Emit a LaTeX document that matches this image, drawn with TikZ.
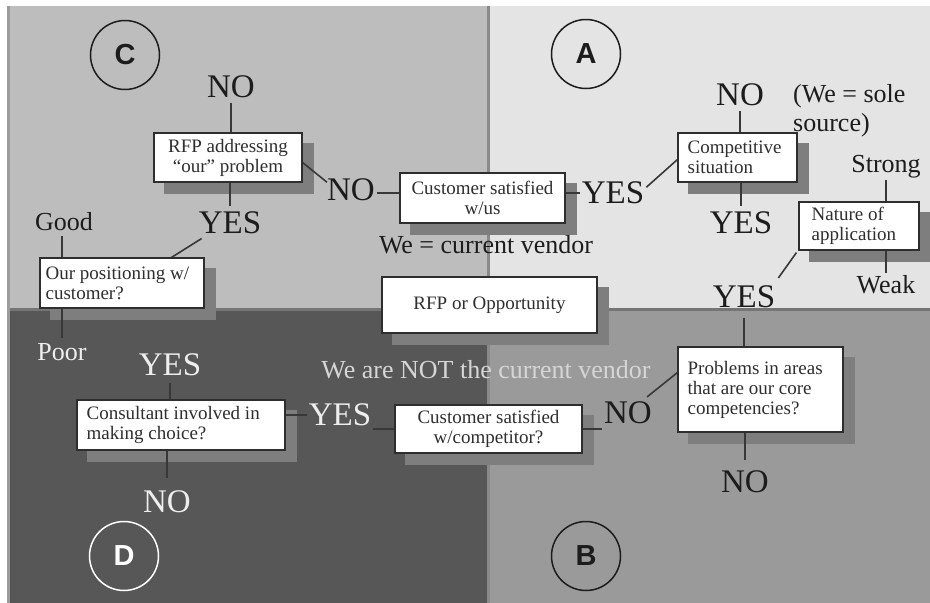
\documentclass[tikz,border=0pt]{standalone}
\usepackage{fontspec}
\setmainfont{Liberation Serif}
\newfontfamily\circfont{Liberation Sans}
\usetikzlibrary{calc}

\pgfdeclarelayer{bg}
\pgfdeclarelayer{shad}
\pgfdeclarelayer{conn}
\pgfsetlayers{bg,shad,conn,main}

\definecolor{qC}{HTML}{BDBDBD}
\definecolor{qA}{HTML}{E4E4E4}
\definecolor{qD}{HTML}{575757}
\definecolor{qB}{HTML}{9A9A9A}
\definecolor{shadowc}{HTML}{7E7E7E}
\definecolor{inkc}{HTML}{1C1C1C}
\definecolor{boxink}{HTML}{2E2E2E}
\definecolor{lightink}{HTML}{EEEEEE}
\definecolor{wire}{HTML}{383838}
\definecolor{divider}{HTML}{8A8A8A}
\definecolor{edgeband}{HTML}{9C9C9C}

\begin{document}
\begin{tikzpicture}[x=1pt,y=-1pt,
  qbox/.style={draw=boxink, line width=1.1pt, fill=white, inner sep=0pt,
    font=\fontsize{19}{20}\selectfont, text=boxink, align=center},
  qtext/.style={inner sep=0pt, font=\fontsize{19}{20}\selectfont, text=boxink,
    align=left, anchor=west},
  answer/.style={font=\fontsize{33}{33}\selectfont, text=inkc, inner sep=2pt, anchor=base},
  answerlt/.style={answer, text=lightink},
  note/.style={font=\fontsize{26}{29}\selectfont, text=inkc, inner sep=2pt, anchor=base},
  wiring/.style={draw=wire, line width=1.6pt},
  zone/.style={circle, draw=inkc, line width=1.5pt, minimum size=69pt, inner sep=0pt,
    text=inkc, font=\circfont\bfseries\fontsize{29}{29}\selectfont},
]
\useasboundingbox (0,0) rectangle (930,603);

% ---- quadrants -------------------------------------------------------
\begin{pgfonlayer}{bg}
  \fill[white] (0,0) rectangle (930,603);
  \fill[qC] (10,6) rectangle (488,308);
  \fill[qA] (488,6) rectangle (930,308);
  \fill[qD] (10,308) rectangle (488,603);
  \fill[qB] (488,308) rectangle (930,603);
  \fill[edgeband] (7,6) rectangle (10,603);
  \draw[divider, line width=3pt] (488,6) -- (488,603);
  \draw[divider!85!black, line width=3pt] (10,309) -- (930,309);
\end{pgfonlayer}

% ---- zone markers ----------------------------------------------------
\node[zone] (zC) at (125,55) {C};
\node[zone] (zA) at (586,54) {A};
\node[zone, draw=white, text=white] (zD) at (124,556) {D};
\node[zone] (zB) at (586,556) {B};

% ---- question boxes --------------------------------------------------
\node[qbox, minimum width=148, minimum height=49] (b1) at (228,157.5)
  {RFP addressing\\“our” problem};
\node[qbox, minimum width=165, minimum height=50] (b2) at (482.5,198)
  {Customer satisfied\\w/us};
\node[qbox, minimum width=119, minimum height=49] (b3) at (737.5,157.5) {};
\node[qtext] (b3t) at ($(b3.west)+(10,0)$) {Competitive\\situation};
\node[qbox, minimum width=120, minimum height=48] (b4) at (859,226) {};
\node[qtext] (b4t) at ($(b4.west)+(13,0)$) {Nature of\\application};
\node[qbox, minimum width=164, minimum height=50] (b5) at (122,283) {};
\node[qtext] (b5t) at ($(b5.west)+(6,0)$) {Our positioning w/\\customer?};
\node[qbox, minimum width=215, minimum height=56] (b6) at (489.5,305)
  {RFP or Opportunity};
\node[qbox, minimum width=165, minimum height=85] (b7) at (760.5,389.5) {};
\node[qtext] (b7t) at ($(b7.west)+(10,0)$)
  {Problems in areas\\that are our core\\competencies?};
\node[qbox, minimum width=187, minimum height=48] (b8) at (488.5,429)
  {Customer satisfied\\w/competitor?};
\node[qbox, minimum width=208, minimum height=50] (b9) at (181,425) {};
\node[qtext] (b9t) at ($(b9.west)+(10,0)$) {Consultant involved in\\making choice?};

% ---- drop shadows ----------------------------------------------------
\begin{pgfonlayer}{shad}
  \foreach \b in {b1,b2,b3,b4,b5,b6,b7,b8,b9}
    \fill[shadowc] ($(\b.north west)+(11,11)$) rectangle ($(\b.south east)+(11,11)$);
\end{pgfonlayer}

% ---- answers and labels ----------------------------------------------
\node[answer] (noCtop) at (231,97) {NO};
\node[answer] (yesC) at (230,233) {YES};
\node[answer] (noCmid) at (351,200) {NO};
\node[answer] (yesAmid) at (613,203) {YES};
\node[answer] (noAtop) at (740,105) {NO};
\node[answer] (yesA) at (741,233) {YES};
\node[answer] (yesAlow) at (744,307) {YES};
\node[answer] (noBmid) at (628,423) {NO};
\node[answer] (noBlow) at (745,492) {NO};
\node[answerlt] (yesDmid) at (340,425) {YES};
\node[answerlt] (yesDtop) at (170,375) {YES};
\node[answerlt] (noD) at (167,512) {NO};

\node[note] (good) at (64,230) {Good};
\node[note, text=lightink] (poor) at (62,360) {Poor};
\node[note] (strong) at (886,172) {Strong};
\node[note] (weak) at (886,293) {Weak};
\node[note, anchor=north west, align=left, inner sep=0pt] (sole) at (793,84)
  {(We = sole\\source)};
\node[note] (curv) at (486,253) {We = current vendor};
\node[note, text=lightink!90!black] (notcurv) at (486,378) {We are NOT the current vendor};

% ---- connectors ------------------------------------------------------
\begin{pgfonlayer}{conn}
  \draw[wiring, shorten <=3pt] (noCtop.south) -- (noCtop.south |- b1.north);
  \draw[wiring, shorten >=3pt] (yesC.north |- b1.south) -- (yesC.north);
  \draw[wiring] ($(yesC.south west)+(5,3)$) -- ($(b5.north west)+(132,0)$);
  \draw[wiring, shorten <=4pt, shorten >=3pt] (poor.north |- good.south) -- (poor.north);
  \draw[wiring] ($(b1.east)+(0,5)$) -- ($(noCmid.west)+(2,-7)$);
  \coordinate (n6) at ($(noCmid.east)+(0,4)$);
  \draw[wiring] (n6) -- (n6 -| b2.west);
  \coordinate (n7) at ($(b2.east)+(0,-5)$);
  \draw[wiring] (n7) -- (n7 -| yesAmid.west);
  \draw[wiring] ($(yesAmid.east)+(0,-5)$) -- ($(b3.west)+(0,2)$);
  \draw[wiring, shorten <=3pt] (noAtop.south) -- (noAtop.south |- b3.north);
  \draw[wiring, shorten >=3pt] (yesA.north |- b3.south) -- (yesA.north);
  \draw[wiring] (strong.south) -- (strong.south |- weak.north);
  \draw[wiring] ($(b4.south west)+(-2,2)$) -- ($(yesAlow.north east)+(1,-5)$);
  \draw[wiring, shorten <=8pt] (yesAlow.south) -- (yesAlow.south |- b7.north);
  \draw[wiring, shorten >=8pt] (noBlow.north |- b7.south) -- (noBlow.north);
  \draw[wiring] ($(b7.west)+(0,-17)$) -- ($(noBmid.north east)+(-7,-2)$);
  \draw[wiring] (b8.east) -- (b8.east -| noBmid.south west);
  \draw[wiring] (b8.west) -- (b8.west -| yesDmid.south east);
  \coordinate (n18) at ($(b9.east)+(0,-10)$);
  \draw[wiring] (n18) -- (n18 -| yesDmid.west);
  \draw[wiring, shorten <=5pt] (yesDtop.south) -- (yesDtop.south |- b9.north);
  \draw[wiring, shorten >=10pt] (noD.north |- b9.south) -- (noD.north);
\end{pgfonlayer}
\end{tikzpicture}
\end{document}
